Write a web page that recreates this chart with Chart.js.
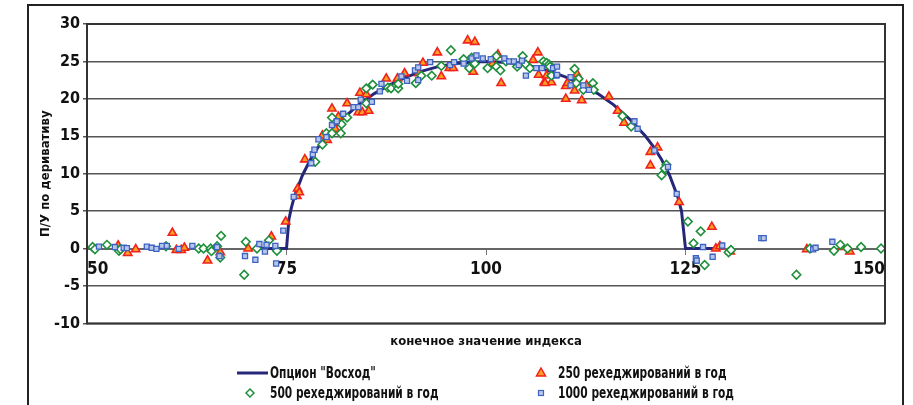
<!DOCTYPE html>
<html lang="ru">
<head>
<meta charset="utf-8">
<title>Опцион "Восход"</title>
<script src="https://cdn.jsdelivr.net/npm/chart.js@4.4.1/dist/chart.umd.min.js"></script>
<style>
  html, body { margin: 0; padding: 0; background: #fff; overflow: hidden; }
  #wrap { position: relative; width: 913px; height: 405px; }
  #frame { position: absolute; left: 27px; top: 4px; width: 877px; height: 430px; border: 2px solid #222; box-sizing: border-box; }
  #chart { position: absolute; left: 0; top: 0; }
  .lg { position: absolute; height: 18px; white-space: nowrap; }
  .lg svg { position: absolute; left: 0; top: 0; }
  .lg span { display: inline-block; font: bold 15px 'Liberation Sans Narrow', 'DejaVu Sans Condensed', 'Arial Narrow', sans-serif;
    color: #111; line-height: 18px; transform: scaleX(0.79); transform-origin: left center; }
</style>
</head>
<body>
<div id="wrap">
  <div id="frame"></div>
  <canvas id="chart" width="913" height="405"></canvas>
  <div id="legend"></div>
</div>
<script>
"use strict";
const FONT = "'Liberation Sans Narrow', 'DejaVu Sans Condensed', 'Arial Narrow', sans-serif";

// payoff of the option (line)
const optionX = [71.5, 75, 75.3, 75.6, 76, 77, 78, 79, 80, 82, 84, 86, 88, 90, 92, 94, 96, 98, 100,
    102, 104, 106, 108, 110, 112, 114, 116, 118, 120, 121, 122, 123, 124, 124.5, 125, 128.5];
const optionY = [0, 0, 3.9, 5.4, 7.0, 9.8, 11.9, 13.6, 15.0, 17.3, 19.2, 20.7, 21.9, 22.9, 23.7, 24.3, 24.7, 24.9, 25.0,
    24.9, 24.7, 24.3, 23.7, 22.9, 21.9, 20.7, 19.2, 17.3, 15.0, 13.6, 11.9, 9.8, 7.0, 5.0, 0, 0];

// 250 rehedges a year (triangles)
const h250X = [53.9, 55.1, 56.1, 60.7, 61.2, 61.8, 62.2, 65.1, 66.7, 70.2, 73.1, 74.9, 76.3, 76.4, 76.6, 77.3,
    79.5, 80.1, 80.7, 81.1, 81.5, 82.6, 84.0, 84.5, 85.3, 84.2, 85.0, 87.5, 88.9, 89.8, 91.6, 92.1, 93.9, 94.4,
    95.4, 95.9, 97.7, 98.6, 98.4, 100.8, 101.5, 101.9, 105.9, 106.5, 106.6, 107.3, 107.6, 108.2, 107.4, 110.0,
    110.2, 110.0, 111.1, 111.4, 112.0, 112.6, 115.4, 116.5, 117.3, 120.6, 121.5, 120.6, 124.2, 128.3, 128.8,
    129.3, 130.6, 140.2, 144.6, 145.6];
const h250Y = [0.4, -0.6, -0.1, 2.1, -0.2, -0.2, 0.1, -1.6, -0.5, 0, 1.6, 3.6, 7.0, 8.0, 7.5, 11.9,
    15.1, 14.5, 18.7, 16.0, 17.6, 19.4, 18.2, 18.2, 18.4, 20.8, 20.6, 22.7, 22.7, 23.4, 23.4, 24.8, 26.2, 23.0,
    24.1, 24.1, 27.8, 27.6, 23.6, 24.7, 25.9, 22.1, 25.2, 26.2, 23.2, 22.2, 23.1, 22.2, 22.1, 21.7,
    22.1, 20.0, 21.1, 23.3, 19.8, 21.8, 20.3, 18.4, 16.8, 12.9, 13.5, 11.1, 6.2, 2.9, 0,
    0.3, -0.4, -0.1, 0.2, -0.4];

// 500 rehedges a year (diamonds)
const h500X = [50.7, 51.0, 52.5, 54.0, 54.2, 59.9, 64.0, 64.6, 65.5, 65.6, 66.3, 66.7, 66.8, 69.7, 69.9, 71.3,
    72.8, 73.8, 78.6, 79.5, 80.0, 80.7, 81.8, 80.7, 81.9, 82.6, 85.0, 85.0, 85.8, 87.7, 88.1, 89.0, 89.0, 91.2,
    91.9, 93.2, 94.4, 95.6, 97.2, 97.9, 98.2, 98.6, 100.2, 101.3, 101.3, 101.8, 102.5, 103.9, 104.6, 105.0,
    105.5, 107.2, 107.6, 107.9, 108.0, 108.2, 111.1, 111.6, 111.3, 112.2, 113.4, 113.5, 117.1, 118.2, 122.6,
    122.4, 122.0, 125.3, 126.0, 126.9, 127.4, 130.4, 130.7, 138.9, 140.6, 143.6, 144.4, 145.3, 147.0, 149.5];
const h500Y = [0.2, -0.1, 0.5, -0.3, -0.1, 0.3, 0, 0, 0, -0.35, 0.3, -1.2, 1.7, -3.5, 0.9, 0,
    1.1, -0.3, 11.6, 13.9, 15.4, 15.4, 15.4, 17.5, 16.6, 17.5, 19.4, 21.4, 21.9, 21.5, 21.4, 21.4, 22.0, 22.1,
    23.1, 23.1, 24.4, 26.5, 25.3, 24.1, 25.5, 24.7, 24.1, 25.7, 24.3, 23.8, 25.0, 24.3, 25.7, 24.6,
    24.1, 25.0, 24.8, 24.6, 24.3, 23.1, 24.0, 22.7, 22.1, 21.2, 22.1, 21.2, 17.7, 16.3, 11.2,
    10.7, 9.8, 3.6, 0.7, 2.3, -2.2, -0.5, -0.2, -3.5, 0, -0.3, 0.5, 0, 0.2, 0];

// 1000 rehedges a year (squares)
const h1000X = [51.5, 53.5, 54.6, 55.0, 57.5, 58.1, 58.7, 59.4, 60.0, 61.5, 63.2, 66.3, 66.6, 69.8, 71.1, 71.6,
    72.3, 72.5, 73.6, 73.7, 74.6, 75.9, 78.1, 78.3, 78.5, 79.0, 80.0, 80.7, 81.3, 82.1, 83.4, 84.0, 84.3, 85.7,
    86.7, 86.9, 89.4, 90.1, 91.1, 91.5, 91.5, 93.0, 95.5, 96.0, 97.2, 98.2, 98.8, 99.6, 100.6, 102.3, 102.9,
    103.5, 104.1, 104.5, 105.0, 106.3, 107.0, 108.4, 108.8, 108.9, 108.9, 110.6, 110.6, 112.2, 112.9, 118.6,
    119.0, 121.1, 122.8, 123.9, 126.3, 126.4, 127.2, 128.4, 129.6, 134.5, 134.8, 141.0, 141.3, 143.4];
const h1000Y = [0.25, 0.2, 0.1, 0.05, 0.25, 0.1, -0.05, 0.35, 0.35, -0.05, 0.35, 0.2, -1.0, -1.0, -1.5, 0.6,
    -0.4, 0.5, 0.35, -2.0, 2.4, 6.9, 11.4, 12.6, 13.2, 14.6, 14.9, 16.5, 17.0, 18.0, 18.9, 18.9, 19.9, 19.6,
    21.0, 22.0, 23.0, 22.4, 23.8, 24.2, 22.5, 24.9, 24.5, 24.9, 24.7, 25.4, 25.8, 25.4, 25.3, 25.4, 25.0,
    25.0, 24.5, 25.1, 23.1, 24.1, 24.1, 24.1, 23.1, 24.3, 23.2, 22.9, 21.8, 21.8, 21.2, 17.0,
    16.0, 13.1, 10.9, 7.3, -1.3, -1.6, 0.2, -1.1, 0.4, 1.4, 1.4, -0.1, 0.1, 0.9];

const xTicks = [50, 75, 100, 125, 150];
const yTicks = [-10, -5, 0, 5, 10, 15, 20, 25, 30];

function toPoints(xs, ys) {
    return xs.map((x, i) => ({ x: x, y: ys[i] }));
}

const datasets = [
    {
        type: 'line',
        label: 'Опцион "Восход"',
        data: toPoints(optionX, optionY),
        borderColor: '#27277a',
        backgroundColor: '#27277a',
        borderWidth: 3,
        pointRadius: 0,
        fill: false,
        order: 4
    },
    {
        type: 'scatter',
        label: '250 рехеджирований в год',
        data: toPoints(h250X, h250Y),
        pointStyle: 'triangle',
        pointRadius: 4.8,
        borderWidth: 1.6,
        borderColor: '#f0221e',
        backgroundColor: '#ffa020',
        order: 3
    },
    {
        type: 'scatter',
        label: '500 рехеджирований в год',
        data: toPoints(h500X, h500Y),
        pointStyle: 'rectRot',
        pointRadius: 4.3,
        borderWidth: 1.6,
        borderColor: '#1e8f3a',
        backgroundColor: '#ffffff',
        order: 2
    },
    {
        type: 'scatter',
        label: '1000 рехеджирований в год',
        data: toPoints(h1000X, h1000Y),
        pointStyle: 'rect',
        pointRadius: 3.6,
        borderWidth: 1.3,
        borderColor: '#3d63c2',
        backgroundColor: '#b9c6ea',
        order: 1
    }
];

// frame round the plot area
const plotFrame = {
    id: 'plotFrame',
    afterDraw(chart) {
        const a = chart.chartArea;
        const ctx = chart.ctx;
        ctx.save();
        ctx.strokeStyle = '#333';
        ctx.lineWidth = 2;
        ctx.strokeRect(a.left, a.top, a.right - a.left, a.bottom - a.top);
        ctx.restore();
    }
};

const ctx = document.getElementById('chart').getContext('2d');
const chart = new Chart(ctx, {
    type: 'scatter',
    data: { datasets: datasets },
    options: {
        responsive: false,
        animation: false,
        layout: { padding: { left: 34, right: 28, top: 24, bottom: 56 } },
        plugins: {
            legend: { display: false },
            tooltip: { enabled: false },
            title: {
                display: true,
                fullSize: false,
                position: 'bottom',
                text: 'конечное значение индекса',
                color: '#111',
                font: { family: FONT, size: 13, weight: 'bold' },
                padding: { top: 10, bottom: 0 }
            }
        },
        scales: {
            x: {
                type: 'linear',
                position: { y: 0 },
                min: 50,
                max: 150,
                afterBuildTicks: (scale) => { scale.ticks = xTicks.map(v => ({ value: v })); },
                ticks: {
                    align: 'inner',
                    maxRotation: 0,
                    color: '#111',
                    padding: 6,
                    font: { family: FONT, size: 17, weight: 'bold' }
                },
                grid: { drawOnChartArea: false, drawTicks: true, tickLength: 5, color: '#777' },
                border: { color: '#666', width: 2 }
            },
            y: {
                min: -10,
                max: 30,
                afterBuildTicks: (scale) => { scale.ticks = yTicks.map(v => ({ value: v })); },
                afterFit: (scale) => { scale.width = 53; },
                title: {
                    display: true,
                    text: 'П/У по деривативу',
                    color: '#111',
                    font: { family: FONT, size: 13, weight: 'bold' }
                },
                ticks: {
                    color: '#111',
                    padding: 3,
                    font: { family: FONT, size: 16, weight: 'bold' }
                },
                grid: { color: '#555', lineWidth: 1.5, tickLength: 4 },
                border: { color: '#333', width: 2 }
            }
        }
    },
    plugins: [plotFrame]
});

// html legend, two columns like the original
const legendEl = document.getElementById('legend');
const legendPos = [
    { left: 237, top: 364, pad: 33 },
    { left: 528, top: 364, pad: 30 },
    { left: 237, top: 384, pad: 33 },
    { left: 528, top: 384, pad: 30 }
];
function markerSvg(ds) {
    const st = ds.pointStyle;
    if (ds.type === 'line') {
        return `<svg width="31" height="18"><line x1="0" y1="9" x2="31" y2="9" stroke="${ds.borderColor}" stroke-width="3"/></svg>`;
    }
    let shape = '';
    if (st === 'triangle') {
        shape = `<polygon points="13,4 17.5,12 8.5,12" fill="${ds.backgroundColor}" stroke="${ds.borderColor}" stroke-width="1.5"/>`;
    } else if (st === 'rectRot') {
        shape = `<polygon points="13,5 17,9 13,13 9,9" fill="${ds.backgroundColor}" stroke="${ds.borderColor}" stroke-width="1.5"/>`;
    } else {
        shape = `<rect x="10.5" y="6.5" width="5" height="5" fill="${ds.backgroundColor}" stroke="${ds.borderColor}" stroke-width="1.2"/>`;
    }
    return `<svg width="31" height="18">${shape}</svg>`;
}
chart.data.datasets.forEach((ds, i) => {
    const item = document.createElement('div');
    item.className = 'lg';
    item.style.left = legendPos[i].left + 'px';
    item.style.top = legendPos[i].top + 'px';
    item.style.paddingLeft = legendPos[i].pad + 'px';
    item.innerHTML = markerSvg(ds) + '<span>' + ds.label + '</span>';
    legendEl.appendChild(item);
});
</script>
</body>
</html>
